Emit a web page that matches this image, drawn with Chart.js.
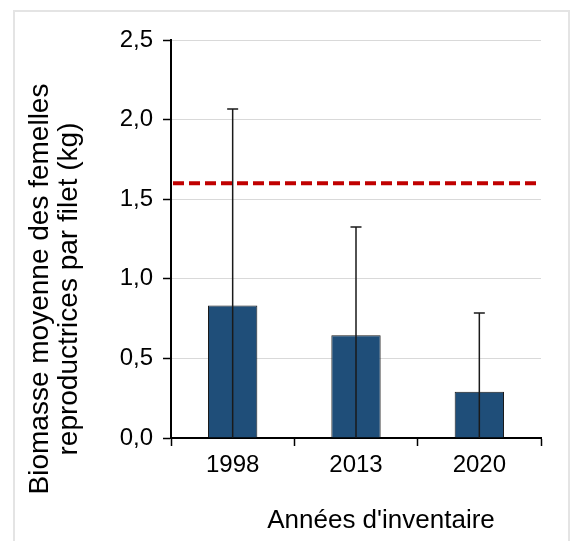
<!DOCTYPE html>
<html lang="fr">
<head>
    <meta charset="UTF-8">
    <title>Biomasse moyenne</title>
    <script src="https://cdn.jsdelivr.net/npm/chart.js"></script>
    <style>
        body { margin: 0; background: #ffffff; }
        #cadre { position: absolute; left: 13px; top: 10px; width: 553px; height: 560px; border: 2px solid #e4e4e4; }
        #grafico { position: absolute; left: 0; top: 0; }
    </style>
</head>
<body>

    <div id="cadre"></div>
    <canvas id="grafico" width="571" height="541"></canvas>

<script>

    // donnees
    var annees = ['1998', '2013', '2020'];
    var biomasse = [0.832, 0.645, 0.291];
    var ecartType = [1.235, 0.68, 0.494];
    var seuil = 1.6;

    var titreY = ['Biomasse moyenne des femelles', 'reproductrices par filet (kg)'];
    var titreX = "Années d'inventaire";

    var police = "'Liberation Sans', Arial, sans-serif";

    // barres d'erreur + ligne de seuil
    const extras = {
        id: 'extras',
        afterDatasetsDraw(chart) {
            const ctx = chart.ctx;
            const y = chart.scales.y;
            const meta = chart.getDatasetMeta(0);

            ctx.save();
            ctx.strokeStyle = '#1a1a1a';
            ctx.lineWidth = 1.5;
            for (var i = 0; i < biomasse.length; i++) {
                var x = meta.data[i].x;
                var haut = y.getPixelForValue(biomasse[i] + ecartType[i]);
                var bas = y.getPixelForValue(Math.max(0, biomasse[i] - ecartType[i]));
                ctx.beginPath();
                ctx.moveTo(x, bas);
                ctx.lineTo(x, haut);
                ctx.moveTo(x - 5.5, haut);
                ctx.lineTo(x + 5.5, haut);
                ctx.stroke();
            }

            var ys = y.getPixelForValue(seuil);
            ctx.strokeStyle = '#c00000';
            ctx.lineWidth = 4;
            ctx.setLineDash([11, 5]);
            ctx.beginPath();
            ctx.moveTo(chart.chartArea.left + 2, ys);
            ctx.lineTo(chart.chartArea.right, ys);
            ctx.stroke();
            ctx.restore();
        },
        afterDraw(chart) {
            const ctx = chart.ctx;
            ctx.save();
            ctx.fillStyle = '#000000';
            ctx.font = '28px ' + police;
            ctx.textAlign = 'center';
            ctx.textBaseline = 'middle';

            ctx.translate(40, 289);
            ctx.rotate(-Math.PI / 2);
            ctx.fillText(titreY[0], 0, 0);
            ctx.fillText(titreY[1], 0, 29);
            ctx.restore();

            ctx.save();
            ctx.fillStyle = '#000000';
            ctx.font = '26px ' + police;
            ctx.textAlign = 'center';
            ctx.textBaseline = 'middle';
            ctx.fillText(titreX, 381, 521);
            ctx.restore();
        }
    };

    const ctx = document.getElementById('grafico').getContext('2d');
    const grafico = new Chart(ctx, {
        type: 'bar',
        data: {
            labels: annees,
            datasets: [{
                label: 'Biomasse',
                data: biomasse,
                backgroundColor: '#1f4e79',
                borderColor: '#1a1a1a',
                borderWidth: 1,
                barPercentage: 0.4,
                categoryPercentage: 1.0
            }]
        },
        options: {
            responsive: false,
            animation: false,
            devicePixelRatio: 1,
            layout: {
                padding: { top: 40, right: 30, left: 0, bottom: 0 }
            },
            plugins: {
                legend: { display: false },
                tooltip: { enabled: false }
            },
            scales: {
                x: {
                    offset: true,
                    grid: {
                        offset: true,
                        drawOnChartArea: false,
                        drawTicks: true,
                        tickLength: 8,
                        tickColor: '#000000',
                        tickWidth: 1.5
                    },
                    border: { color: '#000000', width: 2 },
                    ticks: {
                        color: '#000000',
                        padding: 5,
                        font: { family: police, size: 24 }
                    },
                    afterFit: function (s) { s.height = 103; }
                },
                y: {
                    min: 0,
                    max: 2.5,
                    grid: {
                        color: '#d9d9d9',
                        lineWidth: 1,
                        tickLength: 8,
                        tickColor: '#000000',
                        tickWidth: 1.5
                    },
                    border: { color: '#000000', width: 2 },
                    ticks: {
                        stepSize: 0.5,
                        color: '#000000',
                        padding: 10,
                        font: { family: police, size: 24 }
                    },
                    afterFit: function (s) { s.width = 171; }
                }
            }
        },
        plugins: [extras]
    });

    // virgule decimale
    grafico.options.scales.y.ticks.callback = function (v) { return v.toFixed(1).replace('.', ','); };
    grafico.update();

</script>
</body>
</html>
